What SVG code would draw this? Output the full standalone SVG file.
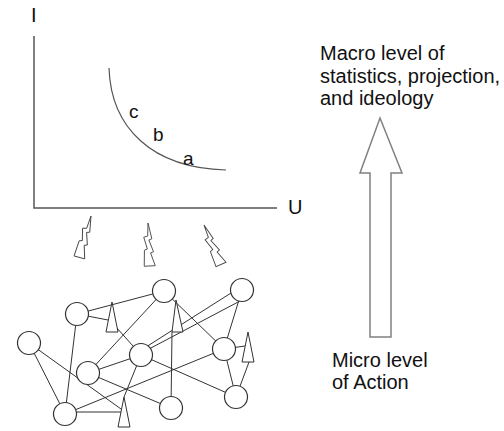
<svg xmlns="http://www.w3.org/2000/svg" width="504" height="431" viewBox="0 0 504 431">
<defs>
<style>
text{font-family:"Liberation Sans",Arial,sans-serif;fill:#111}
.lbl{font-size:20px}
.pt{font-size:19px}
.ax{stroke:#555;stroke-width:1.5;fill:none}
.edge{stroke:#333;stroke-width:1;fill:none}
.node{fill:#fff;stroke:#333;stroke-width:1.2}
.spike{fill:#fff;stroke:#333;stroke-width:1}
.bolt{fill:#fff;stroke:#444;stroke-width:0.9;stroke-linejoin:miter}
</style>
<polygon id="boltShape" class="bolt" points="0,0 3,16 0,17 4,29 1,30 5,43 -6,43 -5,27 -2,26 -5,14 -1,13"/>
</defs>
<rect width="504" height="431" fill="#fff"/>

<g id="graph">
  <polyline class="ax" points="34,36 34,208 277,208"/>
  <path d="M109,68 C111,128 152,168 226,170" fill="none" stroke="#555" stroke-width="1.2"/>
  <text class="lbl" x="31" y="22">I</text>
  <text class="lbl" x="288" y="214">U</text>
  <text class="pt" x="129" y="118">c</text>
  <text class="pt" x="153" y="141">b</text>
  <text class="pt" x="183" y="165">a</text>
</g>

<g id="bolts">
  <use href="#boltShape" transform="translate(91,216) rotate(15)"/>
  <use href="#boltShape" transform="translate(148,223) rotate(-3)"/>
  <use href="#boltShape" transform="translate(204,225) rotate(-24)"/>
</g>

<g id="connectors">
  <line class="edge" x1="77" y1="314" x2="164" y2="291"/>
  <line class="edge" x1="77" y1="314" x2="108" y2="320"/>
  <line class="edge" x1="116" y1="327" x2="141" y2="355"/>
  <line class="edge" x1="77" y1="314" x2="65" y2="414"/>
  <line class="edge" x1="29" y1="343" x2="65" y2="414"/>
  <line class="edge" x1="29" y1="343" x2="121" y2="409"/>
  <line class="edge" x1="65" y1="412" x2="121" y2="412" stroke-width="1.6"/>
  <line class="edge" x1="65" y1="414" x2="224" y2="349"/>
  <line class="edge" x1="88" y1="373" x2="164" y2="291"/>
  <line class="edge" x1="88" y1="373" x2="141" y2="355"/>
  <line class="edge" x1="88" y1="373" x2="171" y2="408"/>
  <line class="edge" x1="141" y1="355" x2="124" y2="397"/>
  <line class="edge" x1="146" y1="347" x2="231" y2="293"/>
  <line class="edge" x1="149" y1="349" x2="240" y2="301"/>
  <line class="edge" x1="164" y1="291" x2="224" y2="349"/>
  <line class="edge" x1="172" y1="332" x2="171" y2="408"/>
  <line class="edge" x1="242" y1="290" x2="224" y2="349"/>
  <line class="edge" x1="141" y1="355" x2="236" y2="397"/>
  <line class="edge" x1="224" y1="349" x2="236" y2="397"/>
  <line class="edge" x1="224" y1="349" x2="245" y2="346"/>
  <line class="edge" x1="236" y1="397" x2="249" y2="362"/>
</g>

<g id="spikes">
  <polygon id="t1" class="spike" points="112,302 118,332 106,332"/>
  <polygon id="t2" class="spike" points="176,300 183,332 172,332"/>
  <polygon id="t3" class="spike" points="248,332 254,362 242,362"/>
  <polygon id="t4" class="spike" points="124,397 130,427 118,427"/>
</g>

<g id="nodes">
  <circle id="n1" class="node" cx="164" cy="291" r="11.5"/>
  <circle id="n2" class="node" cx="242" cy="290" r="11.5"/>
  <circle id="n3" class="node" cx="77" cy="314" r="11.5"/>
  <circle id="n4" class="node" cx="29" cy="343" r="11.5"/>
  <circle id="n5" class="node" cx="141" cy="355" r="11.5"/>
  <circle id="n6" class="node" cx="224" cy="349" r="11.5"/>
  <circle id="n7" class="node" cx="88" cy="373" r="11.5"/>
  <circle id="n8" class="node" cx="236" cy="397" r="11.5"/>
  <circle id="n9" class="node" cx="171" cy="408" r="11.5"/>
  <circle id="n10" class="node" cx="65" cy="414" r="11.5"/>
</g>

<g id="level-arrow">
  <polygon points="380,118 402,173 391,173 391,337 370,337 370,173 360,173" fill="#fff" stroke="#808080" stroke-width="1.5"/>
</g>

<g id="macro-label">
  <text class="lbl" x="320" y="60">Macro level of</text>
  <text class="lbl" x="320" y="83">statistics, projection,</text>
  <text class="lbl" x="320" y="105">and ideology</text>
</g>

<g id="micro-label">
  <text class="lbl" x="332" y="367">Micro level</text>
  <text class="lbl" x="332" y="389">of Action</text>
</g>
</svg>
